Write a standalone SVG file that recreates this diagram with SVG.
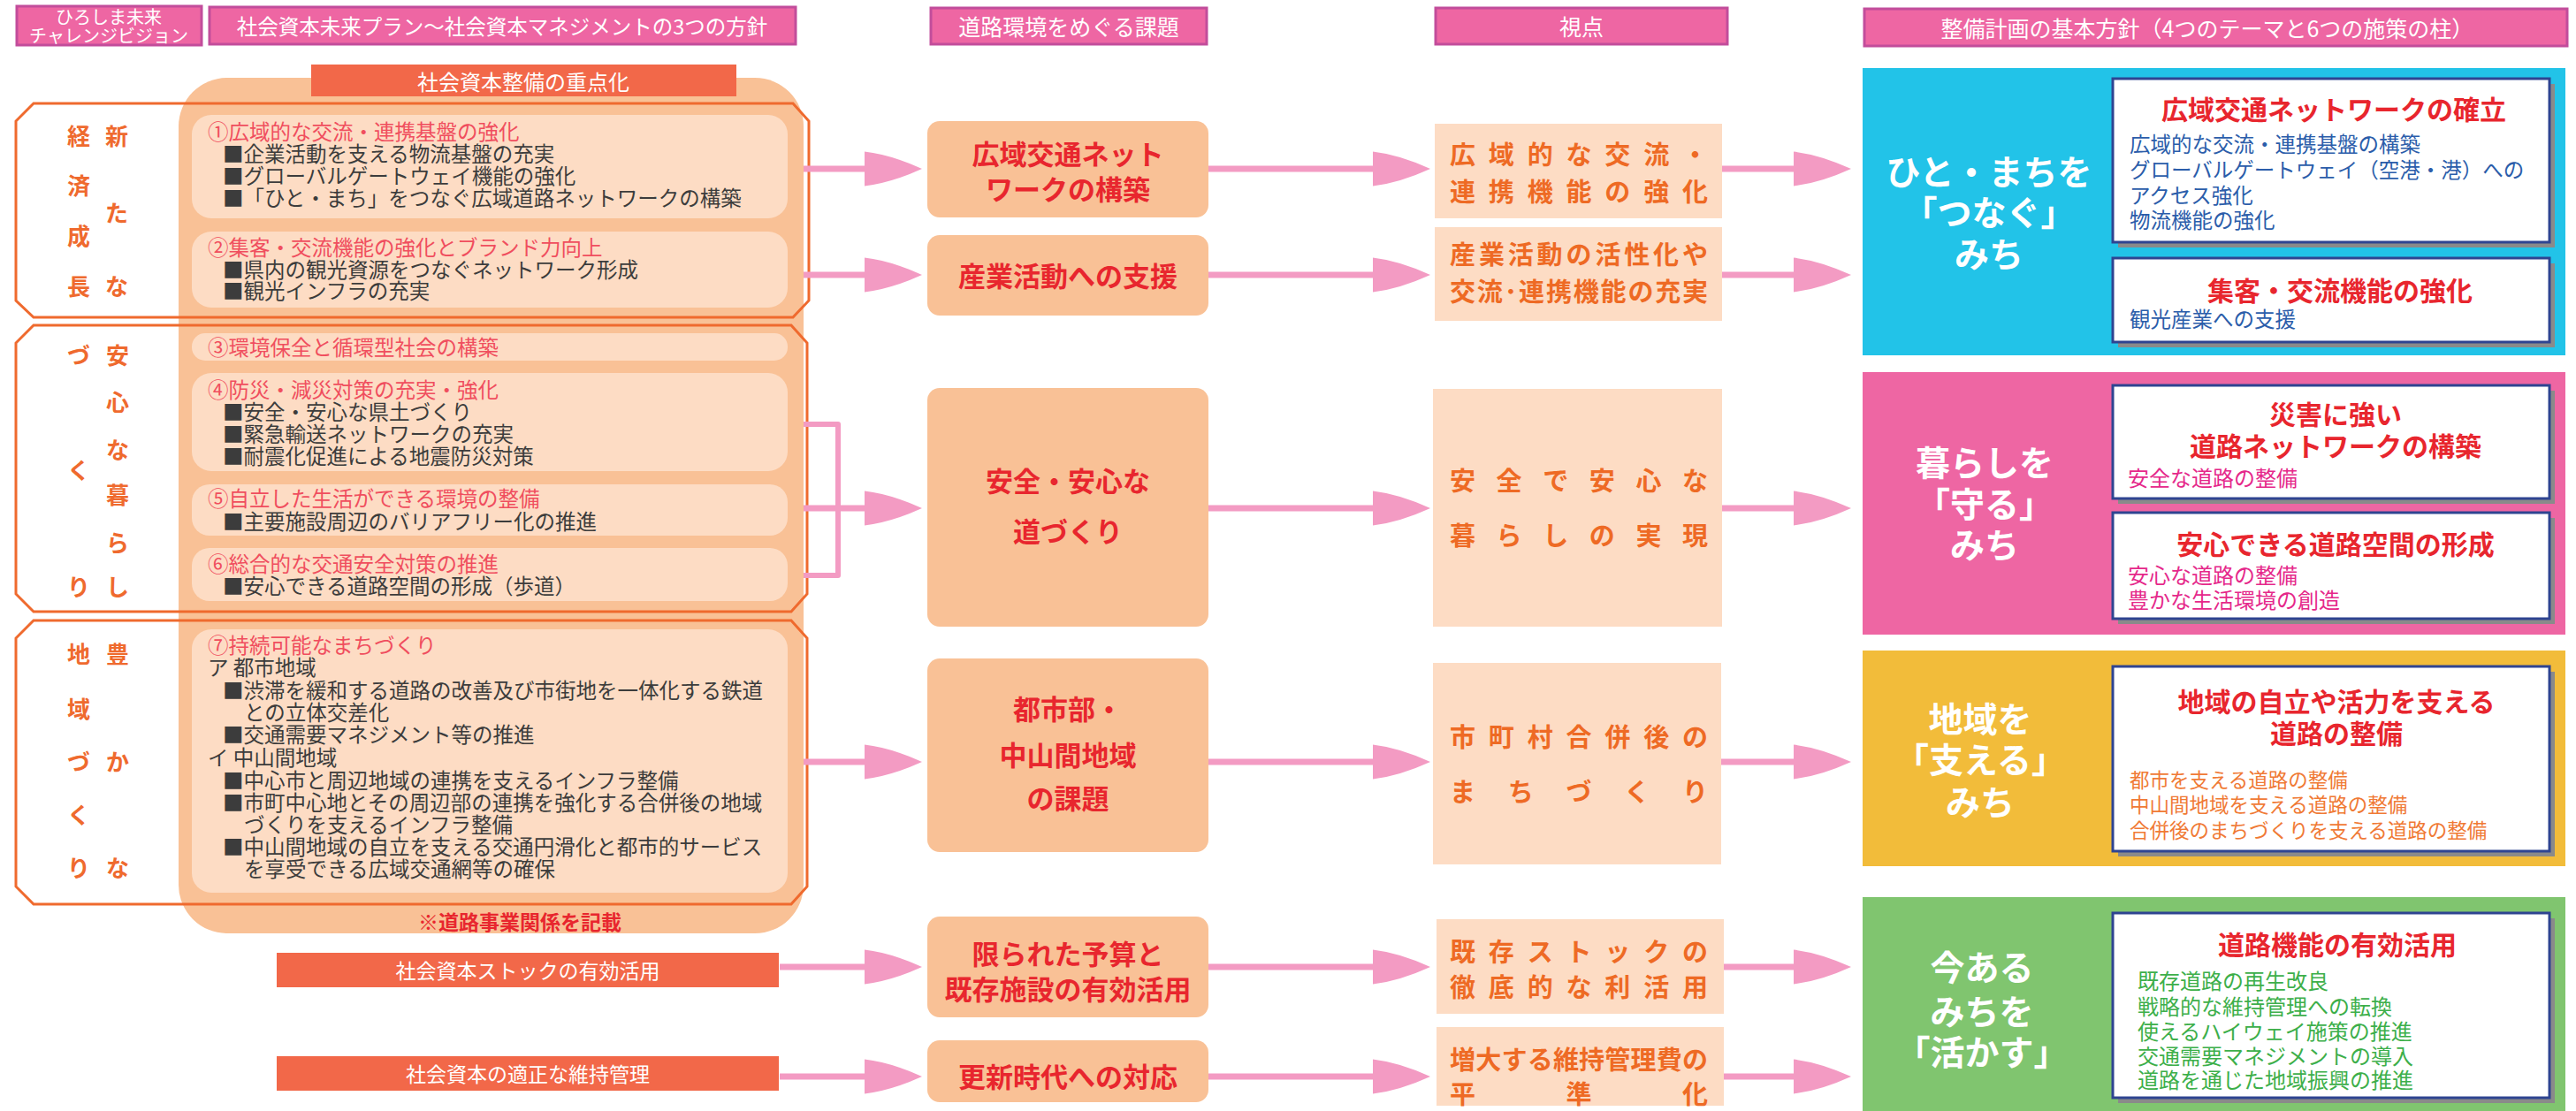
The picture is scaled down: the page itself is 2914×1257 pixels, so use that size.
<svg xmlns="http://www.w3.org/2000/svg" width="2914" height="1257" viewBox="0 0 2914 1257">
<style>
text{font-family:"Noto Sans CJK JP","Noto Sans CJK SC",sans-serif;dominant-baseline:central}
tspan{dominant-baseline:central}
.hdr{fill:#EE66A3;stroke:#C24D9B;stroke-width:3}
.hdrt{fill:#fff;font-size:25px;text-anchor:middle}
.bg{fill:#F9C196}
.ib{fill:#FDDCC4}
.oct{fill:none;stroke:#EF6A2E;stroke-width:3}
.bar{fill:#F26849}
.bart{fill:#fff;font-size:24px;text-anchor:middle}
.tt{fill:#F04E5E}
.lb{fill:#3C3C3C;font-size:23.5px}
.vc{fill:#EF6A2E;font-size:26px;font-weight:700;text-anchor:middle}
.iss{fill:#F9C196}
.isst{fill:#E8262E;font-size:31px;font-weight:700;text-anchor:middle}
.vp{fill:#FDDCC4}
.vpt{fill:#EE6A24;font-size:29px;font-weight:700}
.th{fill:#fff;font-size:39px;font-weight:700;text-anchor:middle}
.wb{fill:#fff;stroke:#2E4491;stroke-width:3}
.sh{fill:#8A8A8A}
.wbh{fill:#E8262E;font-size:30px;font-weight:700;text-anchor:middle}
.blu{fill:#2B5DAA;font-size:23.5px}
.mag{fill:#E5288A;font-size:24px}
.org{fill:#F07A35;font-size:22.5px}
.grn{fill:#3DAF4A;font-size:24px}
.arr{fill:none;stroke:#F39BC3;stroke-width:7;marker-end:url(#ah)}
</style>
<defs>
<marker id="ah" markerUnits="userSpaceOnUse" markerWidth="66" markerHeight="40" viewBox="0 -20 66 40" refX="0" refY="0" orient="auto">
<path d="M0,-19.5 Q30,-16 65,0 Q30,16 0,19.5 Z" fill="#F39BC3"/>
</marker>
</defs>
<rect width="2914" height="1257" fill="#fff"/>

<!-- headers -->
<g id="hdr-vision"><rect class="hdr" x="19" y="7" width="209" height="44"/><text class="hdrt" style="font-size:20px"><tspan x="123" y="18">ひろしま未来</tspan><tspan x="123" y="39">チャレンジビジョン</tspan></text></g>
<g id="hdr-plan"><rect class="hdr" x="237" y="8" width="663" height="42"/><text class="hdrt" x="568" y="29" style="font-size:23.5px">社会資本未来プラン～社会資本マネジメントの3つの方針</text></g>
<g id="hdr-issue"><rect class="hdr" x="1053" y="9" width="312" height="41"/><text class="hdrt" x="1209" y="29">道路環境をめぐる課題</text></g>
<g id="hdr-view"><rect class="hdr" x="1624" y="9" width="330" height="41"/><text class="hdrt" x="1789" y="29">視点</text></g>
<g id="hdr-policy"><rect class="hdr" x="2109" y="10" width="795" height="42"/><text class="hdrt" x="2497" y="31">整備計画の基本方針（4つのテーマと6つの施策の柱）</text></g>

<!-- left column -->
<g id="focus">
<rect class="bg" x="202" y="88" width="707" height="968" rx="55"/>
<rect class="bar" x="352" y="73" width="481" height="36"/>
<text class="bart" x="592" y="91">社会資本整備の重点化</text>
<text x="588" y="1042" style="fill:#E8262E;font-size:23px;font-weight:700;text-anchor:middle">※道路事業関係を記載</text>
</g>

<g id="box1"><rect class="ib" x="217" y="130" width="674" height="117" rx="22"/>
<text class="lb"><tspan class="tt" x="235" y="148">①広域的な交流・連携基盤の強化</tspan><tspan x="252" y="173">■企業活動を支える物流基盤の充実</tspan><tspan x="252" y="198">■グローバルゲートウェイ機能の強化</tspan><tspan x="252" y="223">■「ひと・まち」をつなぐ広域道路ネットワークの構築</tspan></text></g>
<g id="box2"><rect class="ib" x="217" y="262" width="674" height="86" rx="22"/>
<text class="lb"><tspan class="tt" x="235" y="279">②集客・交流機能の強化とブランド力向上</tspan><tspan x="252" y="304">■県内の観光資源をつなぐネットワーク形成</tspan><tspan x="252" y="328">■観光インフラの充実</tspan></text></g>
<g id="box3"><rect class="ib" x="217" y="377" width="674" height="31" rx="15"/>
<text class="lb"><tspan class="tt" x="235" y="392">③環境保全と循環型社会の構築</tspan></text></g>
<g id="box4"><rect class="ib" x="217" y="422" width="674" height="111" rx="22"/>
<text class="lb"><tspan class="tt" x="235" y="440">④防災・減災対策の充実・強化</tspan><tspan x="252" y="465">■安全・安心な県土づくり</tspan><tspan x="252" y="490">■緊急輸送ネットワークの充実</tspan><tspan x="252" y="515">■耐震化促進による地震防災対策</tspan></text></g>
<g id="box5"><rect class="ib" x="217" y="548" width="674" height="58" rx="20"/>
<text class="lb"><tspan class="tt" x="235" y="563">⑤自立した生活ができる環境の整備</tspan><tspan x="252" y="589">■主要施設周辺のバリアフリー化の推進</tspan></text></g>
<g id="box6"><rect class="ib" x="217" y="620" width="674" height="60" rx="20"/>
<text class="lb"><tspan class="tt" x="235" y="637">⑥総合的な交通安全対策の推進</tspan><tspan x="252" y="662">■安心できる道路空間の形成（歩道）</tspan></text></g>
<g id="box7"><rect class="ib" x="217" y="712" width="674" height="298" rx="22"/>
<text class="lb"><tspan class="tt" x="235" y="729">⑦持続可能なまちづくり</tspan><tspan x="235" y="754">ア 都市地域</tspan><tspan x="252" y="780">■渋滞を緩和する道路の改善及び市街地を一体化する鉄道</tspan><tspan x="276" y="805">との立体交差化</tspan><tspan x="252" y="830">■交通需要マネジメント等の推進</tspan><tspan x="235" y="856">イ 中山間地域</tspan><tspan x="252" y="882">■中心市と周辺地域の連携を支えるインフラ整備</tspan><tspan x="252" y="907">■市町中心地とその周辺部の連携を強化する合併後の地域</tspan><tspan x="276" y="932">づくりを支えるインフラ整備</tspan><tspan x="252" y="957">■中山間地域の自立を支える交通円滑化と都市的サービス</tspan><tspan x="276" y="982">を享受できる広域交通網等の確保</tspan></text></g>

<g id="group-growth"><polygon class="oct" points="38,117 897,117 915,137 915,340 897,359 38,359 18,340 18,137"/>
<text class="vc" x="132" y="152">新</text><text class="vc" x="132" y="239">た</text><text class="vc" x="132" y="322">な</text>
<text class="vc" x="89" y="152">経</text><text class="vc" x="89" y="208">済</text><text class="vc" x="89" y="265">成</text><text class="vc" x="89" y="322">長</text></g>
<g id="group-safety"><polygon class="oct" points="38,368 895,368 913,388 913,672 895,692 38,692 18,672 18,388"/>
<text class="vc" x="133" y="400">安</text><text class="vc" x="133" y="453">心</text><text class="vc" x="133" y="507">な</text><text class="vc" x="133" y="558">暮</text><text class="vc" x="133" y="612">ら</text><text class="vc" x="133" y="662">し</text>
<text class="vc" x="89" y="400">づ</text><text class="vc" x="89" y="530">く</text><text class="vc" x="89" y="662">り</text></g>
<g id="group-region"><polygon class="oct" points="38,702 895,702 913,722 913,1003 895,1023 38,1023 18,1003 18,722"/>
<text class="vc" x="133" y="738">豊</text><text class="vc" x="133" y="860">か</text><text class="vc" x="133" y="980">な</text>
<text class="vc" x="89" y="738">地</text><text class="vc" x="89" y="800">域</text><text class="vc" x="89" y="860">づ</text><text class="vc" x="89" y="920">く</text><text class="vc" x="89" y="980">り</text></g>

<g id="bar-stock"><rect class="bar" x="313" y="1078" width="568" height="39"/><text class="bart" x="597" y="1097" style="font-size:23px">社会資本ストックの有効活用</text></g>
<g id="bar-maint"><rect class="bar" x="313" y="1195" width="568" height="39"/><text class="bart" x="597" y="1214" style="font-size:23px">社会資本の適正な維持管理</text></g>

<!-- issues -->
<g id="issue1"><rect class="iss" x="1049" y="137" width="318" height="109" rx="14"/><text class="isst"><tspan x="1208" y="172">広域交通ネット</tspan><tspan x="1208" y="212">ワークの構築</tspan></text></g>
<g id="issue2"><rect class="iss" x="1049" y="266" width="318" height="91" rx="14"/><text class="isst" x="1208" y="310">産業活動への支援</text></g>
<g id="issue3"><rect class="iss" x="1049" y="439" width="318" height="270" rx="14"/><text class="isst"><tspan x="1208" y="542">安全・安心な</tspan><tspan x="1208" y="599">道づくり</tspan></text></g>
<g id="issue4"><rect class="iss" x="1049" y="745" width="318" height="219" rx="14"/><text class="isst"><tspan x="1208" y="800">都市部・</tspan><tspan x="1208" y="852">中山間地域</tspan><tspan x="1208" y="901">の課題</tspan></text></g>
<g id="issue5"><rect class="iss" x="1049" y="1037" width="318" height="114" rx="14"/><text class="isst"><tspan x="1208" y="1077">限られた予算と</tspan><tspan x="1208" y="1117">既存施設の有効活用</tspan></text></g>
<g id="issue6"><rect class="iss" x="1049" y="1177" width="318" height="70" rx="14"/><text class="isst" x="1208" y="1216">更新時代への対応</text></g>

<!-- viewpoints -->
<g id="view1"><rect class="vp" x="1623" y="140" width="325" height="107"/>
<text class="vpt"><tspan x="1640 1683.8 1727.7 1771.5 1815.3 1859.2 1903" y="173">広域的な交流・</tspan><tspan x="1640 1683.8 1727.7 1771.5 1815.3 1859.2 1903" y="215">連携機能の強化</tspan></text></g>
<g id="view2"><rect class="vp" x="1623" y="257" width="325" height="106"/>
<text class="vpt"><tspan x="1640 1672.9 1705.8 1738.6 1771.5 1804.4 1837.3 1870.1 1903" y="286">産業活動の活性化や</tspan><tspan x="1640 1670.8 1701.7 1718 1748.9 1779.7 1810.5 1841.4 1872.2 1903" y="328">交流･連携機能の充実</tspan></text></g>
<g id="view3"><rect class="vp" x="1621" y="440" width="327" height="269"/>
<text class="vpt"><tspan x="1640 1692.6 1745.2 1797.8 1850.4 1903" y="542">安全で安心な</tspan><tspan x="1640 1692.6 1745.2 1797.8 1850.4 1903" y="604">暮らしの実現</tspan></text></g>
<g id="view4"><rect class="vp" x="1621" y="750" width="326" height="228"/>
<text class="vpt"><tspan x="1640 1683.8 1727.7 1771.5 1815.3 1859.2 1903" y="832">市町村合併後の</tspan><tspan x="1640 1705.8 1771.5 1837.3 1903" y="894">まちづくり</tspan></text></g>
<g id="view5"><rect class="vp" x="1625" y="1040" width="325" height="107"/>
<text class="vpt"><tspan x="1640 1683.8 1727.7 1771.5 1815.3 1859.2 1903" y="1075">既存ストックの</tspan><tspan x="1640 1683.8 1727.7 1771.5 1815.3 1859.2 1903" y="1115">徹底的な利活用</tspan></text></g>
<g id="view6"><rect class="vp" x="1625" y="1162" width="325" height="89"/>
<text class="vpt"><tspan x="1640 1669.2 1698.4 1727.7 1756.9 1786.1 1815.3 1844.5 1873.8 1903" y="1197">増大する維持管理費の</tspan><tspan x="1640 1771.5 1903" y="1236">平準化</tspan></text></g>

<!-- themes -->
<g id="theme-connect"><rect x="2107" y="77" width="795" height="325" fill="#22C3E8"/>
<text class="th"><tspan x="2250" y="192">ひと・まちを</tspan><tspan x="2250" y="238">「つなぐ」</tspan><tspan x="2250" y="285">みち</tspan></text>
<rect class="sh" x="2396" y="95" width="494" height="185"/><rect class="wb" x="2390" y="89" width="494" height="185"/>
<text class="wbh" x="2640" y="122">広域交通ネットワークの確立</text>
<text class="blu"><tspan x="2409" y="162">広域的な交流・連携基盤の構築</tspan><tspan x="2409" y="191">グローバルゲートウェイ（空港・港）への</tspan><tspan x="2409" y="220">アクセス強化</tspan><tspan x="2409" y="248">物流機能の強化</tspan></text>
<rect class="sh" x="2396" y="298" width="494" height="95"/><rect class="wb" x="2390" y="292" width="494" height="95"/>
<text class="wbh" x="2647" y="327">集客・交流機能の強化</text>
<text class="blu" x="2409" y="360">観光産業への支援</text></g>

<g id="theme-protect"><rect x="2107" y="421" width="795" height="297" fill="#EE66A3"/>
<text class="th"><tspan x="2245" y="521">暮らしを</tspan><tspan x="2245" y="568">「守る」</tspan><tspan x="2245" y="614">みち</tspan></text>
<rect class="sh" x="2396" y="442" width="494" height="128"/><rect class="wb" x="2390" y="436" width="494" height="128"/>
<text class="wbh"><tspan x="2642" y="467">災害に強い</tspan><tspan x="2642" y="503">道路ネットワークの構築</tspan></text>
<text class="mag" x="2407" y="539">安全な道路の整備</text>
<rect class="sh" x="2396" y="586" width="494" height="120"/><rect class="wb" x="2390" y="580" width="494" height="120"/>
<text class="wbh" x="2642" y="614">安心できる道路空間の形成</text>
<text class="mag"><tspan x="2407" y="649">安心な道路の整備</tspan><tspan x="2407" y="677">豊かな生活環境の創造</tspan></text></g>

<g id="theme-support"><rect x="2107" y="736" width="795" height="244" fill="#F2BC3A"/>
<text class="th"><tspan x="2240" y="811">地域を</tspan><tspan x="2240" y="857">「支える」</tspan><tspan x="2240" y="905">みち</tspan></text>
<rect class="sh" x="2396" y="760" width="494" height="209"/><rect class="wb" x="2390" y="754" width="494" height="209"/>
<text class="wbh"><tspan x="2643" y="792">地域の自立や活力を支える</tspan><tspan x="2643" y="828">道路の整備</tspan></text>
<text class="org"><tspan x="2409" y="881">都市を支える道路の整備</tspan><tspan x="2409" y="909">中山間地域を支える道路の整備</tspan><tspan x="2409" y="938">合併後のまちづくりを支える道路の整備</tspan></text></g>

<g id="theme-utilize"><rect x="2107" y="1015" width="795" height="242" fill="#80C56F"/>
<text class="th"><tspan x="2242" y="1092">今ある</tspan><tspan x="2242" y="1142">みちを</tspan><tspan x="2242" y="1188">「活かす」</tspan></text>
<rect class="sh" x="2396" y="1039" width="494" height="209"/><rect class="wb" x="2390" y="1033" width="494" height="209"/>
<text class="wbh" x="2644" y="1067">道路機能の有効活用</text>
<text class="grn"><tspan x="2418" y="1108">既存道路の再生改良</tspan><tspan x="2418" y="1137">戦略的な維持管理への転換</tspan><tspan x="2418" y="1165">使えるハイウェイ施策の推進</tspan><tspan x="2418" y="1193">交通需要マネジメントの導入</tspan><tspan x="2418" y="1220">道路を通じた地域振興の推進</tspan></text></g>

<!-- connectors -->
<g id="connectors">
<path d="M909,480 H948 V651 H909" fill="none" stroke="#F39BC3" stroke-width="6" stroke-linejoin="round"/>
<path class="arr" d="M909,191 H978"/>
<path class="arr" d="M909,311 H978"/>
<path class="arr" d="M909,575 H978"/>
<path class="arr" d="M909,862 H978"/>
<path class="arr" d="M882,1094 H978"/>
<path class="arr" d="M882,1218 H978"/>
<path class="arr" d="M1367,191 H1553"/>
<path class="arr" d="M1367,311 H1553"/>
<path class="arr" d="M1367,575 H1553"/>
<path class="arr" d="M1367,862 H1553"/>
<path class="arr" d="M1367,1094 H1553"/>
<path class="arr" d="M1367,1218 H1553"/>
<path class="arr" d="M1948,191 H2029"/>
<path class="arr" d="M1948,311 H2029"/>
<path class="arr" d="M1948,575 H2029"/>
<path class="arr" d="M1947,862 H2029"/>
<path class="arr" d="M1950,1094 H2029"/>
<path class="arr" d="M1950,1218 H2029"/>
</g>
</svg>
